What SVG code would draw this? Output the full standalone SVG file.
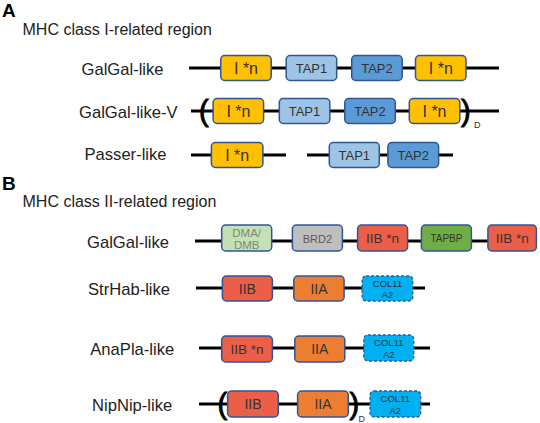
<svg xmlns="http://www.w3.org/2000/svg" width="540" height="423" viewBox="0 0 540 423">
<style>
.lbl{font-family:"Liberation Sans",Arial,sans-serif;font-size:16.6px;fill:#222}
.ttl{font-family:"Liberation Sans",Arial,sans-serif;font-size:16px;fill:#222}
.pan{font-family:"Liberation Sans",Arial,sans-serif;font-size:19px;font-weight:bold;fill:#000}
.ln{stroke:#000;stroke-width:3.2;fill:none}
.box{stroke:#2F5597;stroke-width:1.5}
.dash{stroke:#2F5597;stroke-width:1.3;stroke-dasharray:3 2}
.bt{font-family:"Liberation Sans",Arial,sans-serif;text-anchor:middle;fill:#333}
.par{font-family:"Liberation Sans",Arial,sans-serif;font-size:29px;fill:#000;stroke:#000;stroke-width:0.9}
.sub{font-family:"Liberation Sans",Arial,sans-serif;font-size:9px;fill:#333}
.In{fill:#FFC000}.T1{fill:#9DC3E6}.T2{fill:#5B9BD5}.DM{fill:#C5E0B4}.BR{fill:#BFBFBF}
.IIB{fill:#EB5E47}.TB{fill:#70AD47}.IIA{fill:#ED7D31}.CO{fill:#00B0F0}
</style>
<text class="pan" x="2" y="17">A</text>
<text class="ttl" x="22.5" y="35">MHC class I-related region</text>
<text class="pan" x="2" y="190">B</text>
<text class="ttl" x="22.5" y="207">MHC class II-related region</text>

<g id="connectors">
<line class="ln" x1="189" y1="68" x2="499" y2="68"/>
<line class="ln" x1="191" y1="111" x2="499" y2="111"/>
<line class="ln" x1="191" y1="155" x2="286" y2="155"/>
<line class="ln" x1="307" y1="155" x2="453" y2="155"/>
<line class="ln" x1="195" y1="241" x2="525" y2="241"/>
<line class="ln" x1="196" y1="288" x2="425" y2="288"/>
<line class="ln" x1="199" y1="348" x2="430" y2="348"/>
<line class="ln" x1="199" y1="404" x2="430" y2="404"/>
</g>

<g id="rowA1">
<text class="lbl" x="81.5" y="75">GalGal-like</text>
<rect class="box In" x="220.7" y="55.5" width="50.5" height="25" rx="4"/>
<text class="bt" x="246" y="74" font-size="16">I *n</text>
<rect class="box T1" x="286.2" y="55.5" width="50.5" height="25" rx="4"/>
<text class="bt" x="311.5" y="72.5" font-size="13">TAP1</text>
<rect class="box T2" x="351.7" y="55.5" width="50.5" height="25" rx="4"/>
<text class="bt" x="377" y="72.5" font-size="13">TAP2</text>
<rect class="box In" x="415.5" y="55.5" width="50.5" height="25" rx="4"/>
<text class="bt" x="440.8" y="74" font-size="16">I *n</text>
</g>

<g id="rowA2">
<text class="lbl" x="79" y="118">GalGal-like-V</text>
<text class="par" x="199" y="121">(</text>
<rect class="box In" x="213.1" y="98.5" width="50.5" height="25" rx="4"/>
<text class="bt" x="238.4" y="117" font-size="16">I *n</text>
<rect class="box T1" x="279.3" y="98.5" width="50.5" height="25" rx="4"/>
<text class="bt" x="304.5" y="115.5" font-size="13">TAP1</text>
<rect class="box T2" x="344.8" y="98.5" width="50.5" height="25" rx="4"/>
<text class="bt" x="370" y="115.5" font-size="13">TAP2</text>
<rect class="box In" x="409.3" y="98.5" width="50.5" height="25" rx="4"/>
<text class="bt" x="434.5" y="117" font-size="16">I *n</text>
<text class="par" x="461" y="121">)</text>
<text class="sub" x="474" y="128">D</text>
</g>

<g id="rowA3">
<text class="lbl" x="84.5" y="160">Passer-like</text>
<rect class="box In" x="211.4" y="142.5" width="51.5" height="25" rx="4"/>
<text class="bt" x="237.2" y="161" font-size="16">I *n</text>
<rect class="box T1" x="329.3" y="142.5" width="50" height="25" rx="4"/>
<text class="bt" x="354.3" y="159.5" font-size="13">TAP1</text>
<rect class="box T2" x="387.9" y="142.5" width="50.7" height="25" rx="4"/>
<text class="bt" x="413.2" y="159.5" font-size="13">TAP2</text>
</g>

<g id="rowB1">
<text class="lbl" x="87" y="248">GalGal-like</text>
<rect class="box DM" x="221.7" y="225" width="50" height="26" rx="4"/>
<text class="bt" x="246.7" y="236.5" font-size="11.5" style="fill:#7c8a76">DMA/</text>
<text class="bt" x="246.7" y="249" font-size="11.5" style="fill:#7c8a76">DMB</text>
<rect class="box BR" x="292.4" y="225" width="50" height="26" rx="4"/>
<text class="bt" x="317.4" y="242.5" font-size="11" style="fill:#595959">BRD2</text>
<rect class="box IIB" x="357.6" y="225" width="50" height="26" rx="4"/>
<text class="bt" x="382.6" y="243" font-size="13.5">IIB *n</text>
<rect class="box TB" x="421.4" y="225" width="50" height="26" rx="4"/>
<text class="bt" x="446.4" y="241.5" font-size="10">TAPBP</text>
<rect class="box IIB" x="487.9" y="225" width="48.5" height="26" rx="4"/>
<text class="bt" x="512.2" y="243" font-size="13.5">IIB *n</text>
</g>

<g id="rowB2">
<text class="lbl" x="88" y="295">StrHab-like</text>
<rect class="box IIB" x="222.4" y="276" width="50" height="25" rx="4"/>
<text class="bt" x="247.4" y="293.5" font-size="14">IIB</text>
<rect class="box IIA" x="293.8" y="276" width="50.3" height="25" rx="4"/>
<text class="bt" x="319" y="293.5" font-size="14">IIA</text>
<rect class="dash CO" x="362.1" y="276" width="50.7" height="25" rx="4"/>
<text class="bt" x="387.5" y="286.5" font-size="9.5">COL11</text>
<text class="bt" x="387.5" y="298" font-size="9.5">A2</text>
</g>

<g id="rowB3">
<text class="lbl" x="90.3" y="355">AnaPla-like</text>
<rect class="box IIB" x="221.7" y="336" width="50.7" height="26" rx="4"/>
<text class="bt" x="247" y="354" font-size="13.5">IIB *n</text>
<rect class="box IIA" x="294.8" y="336" width="50" height="26" rx="4"/>
<text class="bt" x="319.8" y="354" font-size="14">IIA</text>
<rect class="dash CO" x="363.8" y="335" width="50" height="26" rx="4"/>
<text class="bt" x="388.8" y="346" font-size="9.5">COL11</text>
<text class="bt" x="388.8" y="357.5" font-size="9.5">A2</text>
</g>

<g id="rowB4">
<text class="lbl" x="92" y="411">NipNip-like</text>
<text class="par" x="217.5" y="414">(</text>
<rect class="box IIB" x="227.6" y="391" width="50.7" height="26" rx="4"/>
<text class="bt" x="253" y="409" font-size="14">IIB</text>
<rect class="box IIA" x="297.6" y="391" width="50.7" height="26" rx="4"/>
<text class="bt" x="323" y="409" font-size="14">IIA</text>
<text class="par" x="349.5" y="414">)</text>
<text class="sub" x="358.5" y="422">D</text>
<rect class="dash CO" x="370" y="391" width="50.7" height="26" rx="4"/>
<text class="bt" x="395.3" y="402" font-size="9.5">COL11</text>
<text class="bt" x="395.3" y="413.5" font-size="9.5">A2</text>
</g>
</svg>
